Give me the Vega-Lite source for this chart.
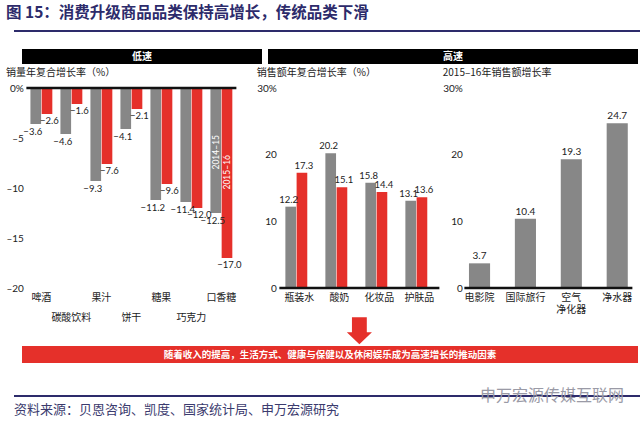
{
  "$schema": "https://vega.github.io/schema/vega-lite/v6.json",
  "background": "white",
  "padding": {"left": 5, "right": 5, "top": 5, "bottom": 0},
  "config": {
    "view": {"stroke": null},
    "font": "Noto Sans CJK SC",
    "axis": {"labelFont": "Lato", "labelColor": "#222222", "domain": false, "ticks": false, "grid": false, "labelFontSize": 10},
    "title": {"font": "Noto Sans CJK SC"}
  },
  "title": {"text": "图 15：消费升级商品品类保持高增长，传统品类下滑", "anchor": "start", "fontSize": 15.5, "fontWeight": "bold", "color": "#2d2b6b", "offset": 4},
  "datasets": {
    "low": [
      {"cat": "啤酒", "series": "2014–15", "value": -3.6},
      {"cat": "啤酒", "series": "2015–16", "value": -2.6},
      {"cat": "碳酸饮料", "series": "2014–15", "value": -4.6},
      {"cat": "碳酸饮料", "series": "2015–16", "value": -1.6},
      {"cat": "果汁", "series": "2014–15", "value": -9.3},
      {"cat": "果汁", "series": "2015–16", "value": -7.6},
      {"cat": "饼干", "series": "2014–15", "value": -4.1},
      {"cat": "饼干", "series": "2015–16", "value": -2.1},
      {"cat": "糖果", "series": "2014–15", "value": -11.2},
      {"cat": "糖果", "series": "2015–16", "value": -9.6},
      {"cat": "巧克力", "series": "2014–15", "value": -11.4},
      {"cat": "巧克力", "series": "2015–16", "value": -12.0},
      {"cat": "口香糖", "series": "2014–15", "value": -12.5},
      {"cat": "口香糖", "series": "2015–16", "value": -17.0}
    ],
    "mid": [
      {"cat": "瓶装水", "series": "2014–15", "value": 12.2},
      {"cat": "瓶装水", "series": "2015–16", "value": 17.3},
      {"cat": "酸奶", "series": "2014–15", "value": 20.2},
      {"cat": "酸奶", "series": "2015–16", "value": 15.1},
      {"cat": "化妆品", "series": "2014–15", "value": 15.8},
      {"cat": "化妆品", "series": "2015–16", "value": 14.4},
      {"cat": "护肤品", "series": "2014–15", "value": 13.1},
      {"cat": "护肤品", "series": "2015–16", "value": 13.6}
    ],
    "high": [
      {"cat": "电影院", "value": 3.7},
      {"cat": "国际旅行", "value": 10.4},
      {"cat": "空气净化器", "value": 19.3},
      {"cat": "净水器", "value": 24.7}
    ],
    "note": [{"text": "随着收入的提高，生活方式、健康与保健以及休闲娱乐成为高速增长的推动因素"}],
    "blank": [{"t": ""}],
    "mark": [{"t": "申万宏源传媒互联网"}]
  },
  "spacing": 25,
  "center": true,
  "vconcat": [
    {
      "spacing": 13,
      "center": true,
      "vconcat": [
        {
          "width": 632, "height": 2,
          "view": {"fill": "#2d2b6b", "stroke": null},
          "data": {"name": "blank"},
          "mark": {"type": "text"},
          "encoding": {"text": {"field": "t"}}
        },
        {
          "spacing": 4,
          "center": true,
          "vconcat": [
            {
              "spacing": 6,
              "hconcat": [
                {
                  "width": 240, "height": 15,
                  "view": {"fill": "#000000", "stroke": null},
                  "data": {"values": [{"t": "低速"}]},
                  "mark": {"type": "text", "color": "white", "fontSize": 10, "fontWeight": "bold"},
                  "encoding": {"text": {"field": "t"}}
                },
                {
                  "width": 370, "height": 15,
                  "view": {"fill": "#000000", "stroke": null},
                  "data": {"values": [{"t": "高速"}]},
                  "mark": {"type": "text", "color": "white", "fontSize": 10, "fontWeight": "bold"},
                  "encoding": {"text": {"field": "t"}}
                }
              ]
            },
            {
              "spacing": 1,
              "center": true,
              "vconcat": [
                {
                  "spacing": 14,
                  "hconcat": [
                    {
                      "width": 210, "height": 200,
                      "data": {"name": "low"},
                      "title": {"text": "销量年复合增长率（%）", "anchor": "start", "frame": "bounds", "fontSize": 10, "fontWeight": "normal", "color": "#222222", "offset": 5},
                      "layer": [
                        {
                          "mark": {"type": "bar"},
                          "encoding": {
                            "x": {"field": "cat", "type": "nominal", "sort": null, "title": null,
                                  "scale": {"paddingInner": 0.27, "paddingOuter": 0.135},
                                  "axis": {"labelAngle": 0, "labelPadding": 4, "labelFont": "Noto Sans CJK SC", "labelLineHeight": 20,
                                           "labelExpr": "indexof(['碳酸饮料','饼干','巧克力'], datum.label) >= 0 ? ['', datum.label] : datum.label"}},
                            "xOffset": {"field": "series", "type": "nominal", "scale": {"domain": ["2014–15", "2015–16"], "paddingInner": 0.05}},
                            "y": {"field": "value", "type": "quantitative", "title": null,
                                  "scale": {"domain": [-20, 0], "nice": false, "zero": false},
                                  "axis": {"values": [0, -5, -10, -15, -20], "labelPadding": 3,
                                           "labelExpr": "datum.value == 0 ? '0%' : '–' + abs(datum.value)"}},
                            "color": {"field": "series", "type": "nominal", "legend": null,
                                      "scale": {"domain": ["2014–15", "2015–16"], "range": ["#878787", "#e5302a"]}}
                          }
                        },
                        {
                          "transform": [{"filter": "datum.series == '2014–15'"}],
                          "mark": {"type": "text", "baseline": "top", "dy": 3, "dx": -3, "fontSize": 9.5, "font": "Lato", "color": "#222222"},
                          "encoding": {
                            "x": {"field": "cat", "type": "nominal", "sort": null},
                            "xOffset": {"field": "series", "type": "nominal"},
                            "y": {"field": "value", "type": "quantitative"},
                            "text": {"field": "value", "type": "quantitative", "format": ".1f"}
                          }
                        },
                        {
                          "transform": [{"filter": "datum.series == '2015–16'"}],
                          "mark": {"type": "text", "baseline": "top", "dy": 2, "dx": 2.5, "fontSize": 9.5, "font": "Lato", "color": "#222222"},
                          "encoding": {
                            "x": {"field": "cat", "type": "nominal", "sort": null},
                            "xOffset": {"field": "series", "type": "nominal"},
                            "y": {"field": "value", "type": "quantitative"},
                            "text": {"field": "value", "type": "quantitative", "format": ".1f"}
                          }
                        },
                        {
                          "transform": [{"filter": "datum.cat == '口香糖' && datum.series == '2014–15'"}],
                          "mark": {"type": "text", "angle": 270, "align": "right", "baseline": "middle", "fontSize": 8.5, "font": "Lato", "color": "white"},
                          "encoding": {
                            "x": {"field": "cat", "type": "nominal", "sort": null},
                            "xOffset": {"field": "series", "type": "nominal"},
                            "y": {"datum": -4.7},
                            "text": {"field": "series"}
                          }
                        },
                        {
                          "transform": [{"filter": "datum.cat == '口香糖' && datum.series == '2015–16'"}],
                          "mark": {"type": "text", "angle": 270, "align": "right", "baseline": "middle", "fontSize": 8.5, "font": "Lato", "color": "white"},
                          "encoding": {
                            "x": {"field": "cat", "type": "nominal", "sort": null},
                            "xOffset": {"field": "series", "type": "nominal"},
                            "y": {"datum": -6.7},
                            "text": {"field": "series"}
                          }
                        },
                        {
                          "data": {"name": "blank"},
                          "mark": {"type": "rule", "color": "#111111", "strokeWidth": 2.5},
                          "encoding": {"y": {"datum": 0}}
                        }
                      ]
                    },
                    {
                      "spacing": 1,
                      "hconcat": [
                        {
                          "width": 160, "height": 200,
                          "data": {"name": "mid"},
                          "title": {"text": "销售额年复合增长率（%）", "anchor": "start", "frame": "bounds", "fontSize": 10, "fontWeight": "normal", "color": "#222222", "offset": 5},
                          "layer": [
                            {
                              "mark": {"type": "bar"},
                              "encoding": {
                                "x": {"field": "cat", "type": "nominal", "sort": null, "title": null,
                                      "scale": {"paddingInner": 0.3, "paddingOuter": 0.15},
                                      "axis": {"labelAngle": 0, "labelPadding": 4, "labelFont": "Noto Sans CJK SC"}},
                                "xOffset": {"field": "series", "type": "nominal", "scale": {"domain": ["2014–15", "2015–16"], "paddingInner": 0.03}},
                                "y": {"field": "value", "type": "quantitative", "title": null,
                                      "scale": {"domain": [0, 30], "nice": false},
                                      "axis": {"values": [0, 10, 20, 30], "labelPadding": 3,
                                               "labelExpr": "datum.value == 30 ? '30%' : datum.label"}},
                                "color": {"field": "series", "type": "nominal", "legend": null,
                                          "scale": {"domain": ["2014–15", "2015–16"], "range": ["#878787", "#e5302a"]}}
                              }
                            },
                            {
                              "transform": [{"filter": "datum.series == '2014–15'"}],
                              "mark": {"type": "text", "baseline": "bottom", "dy": -2, "dx": -2, "fontSize": 9.5, "font": "Lato", "color": "#222222"},
                              "encoding": {
                                "x": {"field": "cat", "type": "nominal", "sort": null},
                                "xOffset": {"field": "series", "type": "nominal"},
                                "y": {"field": "value", "type": "quantitative"},
                                "text": {"field": "value", "type": "quantitative", "format": ".1f"}
                              }
                            },
                            {
                              "transform": [{"filter": "datum.series == '2015–16'"}],
                              "mark": {"type": "text", "baseline": "bottom", "dy": -2, "dx": 2, "fontSize": 9.5, "font": "Lato", "color": "#222222"},
                              "encoding": {
                                "x": {"field": "cat", "type": "nominal", "sort": null},
                                "xOffset": {"field": "series", "type": "nominal"},
                                "y": {"field": "value", "type": "quantitative"},
                                "text": {"field": "value", "type": "quantitative", "format": ".1f"}
                              }
                            },
                            {
                              "data": {"name": "blank"},
                              "mark": {"type": "rule", "color": "#111111", "strokeWidth": 2.5},
                              "encoding": {"y": {"datum": 0}}
                            },
                            {
                              "data": {"name": "blank"},
                              "mark": {"type": "point", "shape": "M-0.55,-1L0.55,-1L0.55,0.11L0.93,0.11L0,1L-0.93,0.11L-0.55,0.11Z", "size": 729, "filled": true, "color": "#e5302a", "opacity": 1, "strokeWidth": 0},
                              "encoding": {"y": {"datum": -6.4}}
                            }
                          ]
                        },
                        {
                          "width": 168, "height": 200,
                          "data": {"name": "high"},
                          "title": {"text": "2015–16年销售额增长率", "anchor": "start", "frame": "bounds", "fontSize": 10, "fontWeight": "normal", "color": "#222222", "offset": 5},
                          "layer": [
                            {
                              "mark": {"type": "bar", "color": "#878787"},
                              "encoding": {
                                "x": {"field": "cat", "type": "nominal", "sort": null, "title": null,
                                      "scale": {"paddingInner": 0.54, "paddingOuter": 0.1},
                                      "axis": {"labelAngle": 0, "labelPadding": 4, "labelFont": "Noto Sans CJK SC", "labelLineHeight": 12.5,
                                               "labelExpr": "datum.label == '空气净化器' ? ['空气', '净化器'] : datum.label"}},
                                "y": {"field": "value", "type": "quantitative", "title": null,
                                      "scale": {"domain": [0, 30], "nice": false},
                                      "axis": {"values": [0, 10, 20, 30], "labelPadding": 2,
                                               "labelExpr": "datum.value == 30 ? '30%' : datum.label"}}
                              }
                            },
                            {
                              "mark": {"type": "text", "baseline": "bottom", "dy": -2, "fontSize": 10, "font": "Lato", "color": "#222222"},
                              "encoding": {
                                "x": {"field": "cat", "type": "nominal", "sort": null},
                                "y": {"field": "value", "type": "quantitative"},
                                "text": {"field": "value", "type": "quantitative", "format": ".1f"}
                              }
                            },
                            {
                              "data": {"name": "blank"},
                              "mark": {"type": "rule", "color": "#111111", "strokeWidth": 2.5},
                              "encoding": {"y": {"datum": 0}}
                            }
                          ]
                        }
                      ]
                    }
                  ]
                },
                {
                  "width": 616, "height": 17,
                  "view": {"fill": "#e5302a", "stroke": null},
                  "data": {"name": "note"},
                  "mark": {"type": "text", "color": "white", "fontSize": 9.5, "fontWeight": "bold"},
                  "encoding": {"text": {"field": "text"}}
                }
              ]
            }
          ]
        }
      ]
    },
    {
      "width": 632, "height": 2,
      "view": {"fill": "#2d2b6b", "stroke": null},
      "title": {"text": "资料来源：贝恩咨询、凯度、国家统计局、申万宏源研究", "orient": "bottom", "anchor": "start", "frame": "group", "fontSize": 13, "fontWeight": "normal", "color": "#3b3b6e", "offset": 0},
      "data": {"name": "mark"},
      "mark": {"type": "text", "align": "right", "baseline": "middle", "dx": -22, "fontSize": 16, "color": "#9a9aa6"},
      "encoding": {"x": {"value": "width"}, "text": {"field": "t"}}
    }
  ]
}
